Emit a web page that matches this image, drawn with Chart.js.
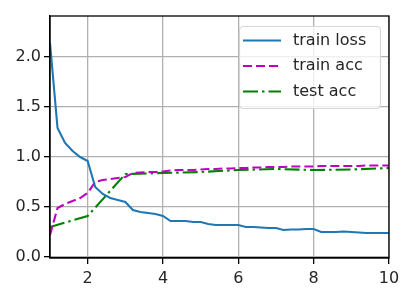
<!DOCTYPE html>
<html lang="en">
<head>
  <meta charset="UTF-8" />
  <title>Training curves</title>
  <script src="https://cdn.jsdelivr.net/npm/chart.js"></script>
  <style>
    html, body { margin: 0; padding: 0; background: #fff; }
    #wrap { width: 410px; height: 289px; }
  </style>
</head>
<body>
  <div id="wrap"><canvas id="lossChart" width="410" height="289"></canvas></div>
  <script>
    // data
    const fineEpochs = [1.0, 1.2, 1.4, 1.6, 1.8, 2.0, 2.2, 2.4, 2.6, 2.8, 3.0, 3.2, 3.4, 3.6, 3.8, 4.0,
      4.2, 4.4, 4.6, 4.8, 5.0, 5.2, 5.4, 5.6, 5.8, 6.0, 6.2, 6.4, 6.6, 6.8, 7.0, 7.2, 7.4, 7.6, 7.8, 8.0,
      8.2, 8.4, 8.6, 8.8, 9.0, 9.2, 9.4, 9.6, 9.8, 10.0];
    const trainLoss = [2.14, 1.29, 1.14, 1.06, 1.00, 0.96, 0.70, 0.63, 0.59, 0.57, 0.55, 0.47, 0.45, 0.44, 0.43, 0.41,
      0.36, 0.36, 0.36, 0.35, 0.35, 0.33, 0.32, 0.32, 0.32, 0.32, 0.30, 0.30, 0.295, 0.29, 0.29, 0.27, 0.275, 0.275, 0.28, 0.28,
      0.25, 0.25, 0.25, 0.255, 0.25, 0.245, 0.24, 0.24, 0.24, 0.24];
    const trainAcc = [0.22, 0.49, 0.53, 0.56, 0.59, 0.64, 0.75, 0.77, 0.78, 0.79, 0.80, 0.84, 0.845, 0.85, 0.85, 0.855,
      0.865, 0.87, 0.87, 0.87, 0.875, 0.88, 0.88, 0.885, 0.885, 0.89, 0.89, 0.895, 0.895, 0.90, 0.90, 0.90, 0.905, 0.905, 0.905, 0.905,
      0.91, 0.91, 0.91, 0.91, 0.91, 0.91, 0.915, 0.915, 0.915, 0.915];
    const epochs = [1, 2, 3, 4, 5, 6, 7, 8, 9, 10];
    const testAcc = [0.30, 0.41, 0.83, 0.84, 0.85, 0.87, 0.88, 0.87, 0.875, 0.89];
    const xTicks = [2, 4, 6, 8, 10];
    const yTicks = [0.0, 0.5, 1.0, 1.5, 2.0];

    const pts = (xs, ys) => xs.map((x, i) => ({ x: x, y: ys[i] }));
    const font = { family: 'DejaVu Sans', size: 16 };

    // matplotlib style legend in the upper right + full box around the axes
    const mplBox = {
      id: 'mplBox',
      afterDraw(chart) {
        const ctx = chart.ctx;
        const a = chart.chartArea;
        ctx.save();
        ctx.strokeStyle = '#000';
        ctx.lineWidth = 1.3;
        ctx.strokeRect(a.left, a.top, a.right - a.left, a.bottom - a.top);

        const bx = 239.5, by = 26.5, bw = 141, bh = 82;
        ctx.beginPath();
        ctx.roundRect(bx, by, bw, bh, 4);
        ctx.fillStyle = 'rgba(255,255,255,0.8)';
        ctx.fill();
        ctx.strokeStyle = '#d6d6d6';
        ctx.lineWidth = 1.2;
        ctx.stroke();

        ctx.font = '16px "DejaVu Sans"';
        ctx.textBaseline = 'middle';
        chart.data.datasets.forEach((ds, i) => {
          const y = 40.5 + i * 25.5;
          ctx.beginPath();
          ctx.setLineDash(ds.borderDash || []);
          ctx.strokeStyle = ds.borderColor;
          ctx.lineWidth = ds.borderWidth;
          ctx.moveTo(243, y);
          ctx.lineTo(281, y);
          ctx.stroke();
          ctx.setLineDash([]);
          ctx.fillStyle = '#262626';
          ctx.fillText(ds.label, 293, y);
        });
        ctx.restore();
      }
    };

    new Chart(document.getElementById('lossChart'), {
      type: 'line',
      data: {
        datasets: [
          {
            label: 'train loss',
            data: pts(fineEpochs, trainLoss),
            borderColor: '#1f77b4',
            borderWidth: 2.1,
            pointRadius: 0,
            tension: 0
          },
          {
            label: 'train acc',
            data: pts(fineEpochs, trainAcc),
            borderColor: '#bf00bf',
            borderWidth: 2.1,
            borderDash: [9, 4],
            pointRadius: 0,
            tension: 0
          },
          {
            label: 'test acc',
            data: pts(epochs, testAcc),
            borderColor: '#008000',
            borderWidth: 2.1,
            borderDash: [15, 4, 2.5, 4],
            pointRadius: 0,
            tension: 0
          }
        ]
      },
      options: {
        responsive: false,
        animation: false,
        layout: { padding: { top: 16, right: 21, left: 0, bottom: 0 } },
        plugins: {
          legend: { display: false },
          tooltip: { enabled: false }
        },
        scales: {
          x: {
            type: 'linear',
            min: 1,
            max: 10,
            afterBuildTicks: s => { s.ticks = xTicks.map(v => ({ value: v })); },
            afterFit: s => { s.height = 31; },
            ticks: { color: '#262626', font: font, padding: 5, maxRotation: 0 },
            grid: { color: '#b0b0b0', lineWidth: 1.3, tickColor: '#000', tickLength: 6 },
            border: { color: '#000', width: 1.3 }
          },
          y: {
            type: 'linear',
            min: -0.01,
            max: 2.41,
            afterBuildTicks: s => { s.ticks = yTicks.map(v => ({ value: v })); },
            afterFit: s => { s.width = 50; },
            ticks: {
              color: '#262626', font: font, padding: 3,
              callback: v => Number(v).toFixed(1)
            },
            grid: { color: '#b0b0b0', lineWidth: 1.3, tickColor: '#000', tickLength: 6 },
            border: { color: '#000', width: 1.3 }
          }
        }
      },
      plugins: [mplBox]
    });
  </script>
</body>
</html>
